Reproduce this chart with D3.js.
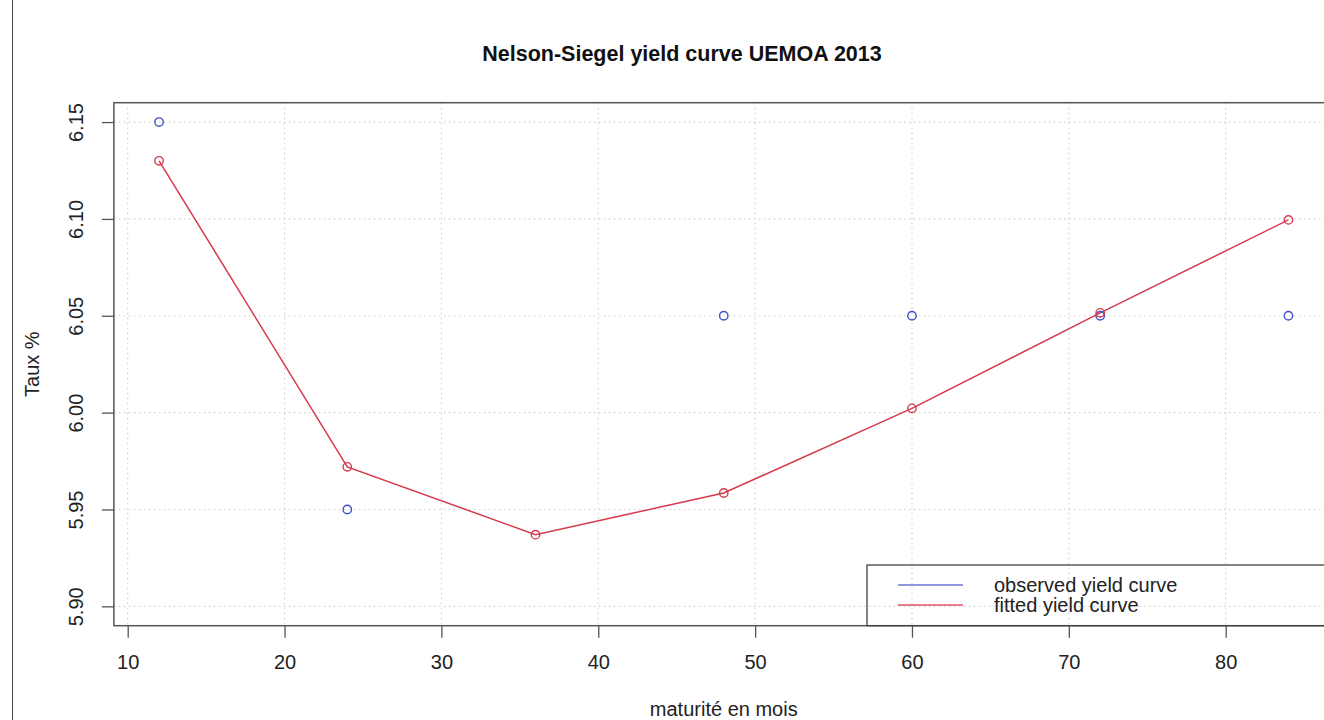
<!DOCTYPE html>
<html>
<head>
<meta charset="utf-8">
<script src="https://cdn.jsdelivr.net/npm/d3@7"></script>
<style>
  html, body { margin: 0; padding: 0; background: #fff; }
  svg { display: block; font-family: "Liberation Sans", Arial, Helvetica, sans-serif; }
</style>
</head>
<body>
<svg id="chart" width="1324" height="720"></svg>
<script>
// Maturities (months) and yields (%)
const maturities = [12, 24, 36, 48, 60, 72, 84];
const observedYield = [6.15, 5.95, null, 6.05, 6.05, 6.05, 6.05];
const fittedYield = [6.13, 5.972, 5.937, 5.9585, 6.0022, 6.0515, 6.0995];
const xTicks = [10, 20, 30, 40, 50, 60, 70, 80];
const yTicks = [5.90, 5.95, 6.00, 6.05, 6.10, 6.15];
const legendLabels = ["observed yield curve", "fitted yield curve"];

(function () {
  const blue = "#3f50c8";
  const red = "#d43a4c";

  const svg = d3.select("#chart");
  const H = 720;

  // Plot region (R-style 4% padding around the data range)
  const pLeft = 113.9, pRight = 1333.6, pTop = 102.7, pBottom = 625.7;

  const x = d3.scaleLinear().domain([9.12, 86.88]).range([pLeft, pRight]);
  const y = d3.scaleLinear().domain([5.89, 6.16]).range([pBottom, pTop]);

  // Thin frame line along the left edge of the image
  svg.append("line")
    .attr("x1", 12.5).attr("x2", 12.5).attr("y1", 0).attr("y2", H)
    .attr("stroke", "#444").attr("stroke-width", 1);

  // Dotted grid
  const grid = svg.append("g").attr("stroke", "#cfcfcf").attr("stroke-width", 1.2)
    .attr("stroke-dasharray", "1.5,3.5");
  grid.selectAll("line.v").data(xTicks).join("line").attr("class", "v")
    .attr("x1", d => x(d)).attr("x2", d => x(d))
    .attr("y1", pTop).attr("y2", pBottom);
  grid.selectAll("line.h").data(yTicks).join("line").attr("class", "h")
    .attr("x1", pLeft).attr("x2", pRight)
    .attr("y1", d => y(d)).attr("y2", d => y(d));

  // X axis
  const xAxis = svg.append("g")
    .attr("transform", `translate(0,${pBottom})`)
    .call(d3.axisBottom(x).tickValues(xTicks).tickSize(12).tickPadding(17).tickFormat(d3.format("d")));
  xAxis.select(".domain").remove();
  xAxis.selectAll(".tick line").attr("stroke", "#555").attr("stroke-width", 1.3);
  xAxis.selectAll(".tick text").attr("font-size", 20).attr("fill", "#222")
    .attr("font-family", "'Liberation Sans', Arial, sans-serif");

  // Y axis with rotated labels
  const yAxis = svg.append("g")
    .attr("transform", `translate(${pLeft},0)`)
    .call(d3.axisLeft(y).tickValues(yTicks).tickSize(12).tickFormat(d3.format(".2f")));
  yAxis.select(".domain").remove();
  yAxis.selectAll(".tick line").attr("stroke", "#555").attr("stroke-width", 1.3);
  yAxis.selectAll(".tick text")
    .attr("font-size", 20).attr("fill", "#222")
    .attr("font-family", "'Liberation Sans', Arial, sans-serif")
    .attr("transform", "rotate(-90)")
    .attr("x", 0).attr("y", -(pLeft - 83)).attr("dy", 0)
    .attr("text-anchor", "middle");

  // Plot box
  svg.append("rect")
    .attr("x", pLeft).attr("y", pTop)
    .attr("width", pRight - pLeft).attr("height", pBottom - pTop)
    .attr("fill", "none").attr("stroke", "#555").attr("stroke-width", 1.5);

  // Fitted curve
  const pts = maturities.map((m, i) => ({ m, obs: observedYield[i], fit: fittedYield[i] }));
  svg.append("path")
    .datum(pts)
    .attr("fill", "none").attr("stroke", red).attr("stroke-width", 1.5)
    .attr("d", d3.line().x(d => x(d.m)).y(d => y(d.fit)));

  // Observed points
  svg.append("g").selectAll("circle")
    .data(pts.filter(d => d.obs !== null)).join("circle")
    .attr("cx", d => x(d.m)).attr("cy", d => y(d.obs)).attr("r", 4.2)
    .attr("fill", "none").attr("stroke", blue).attr("stroke-width", 1.4);

  // Fitted points
  svg.append("g").selectAll("circle")
    .data(pts).join("circle")
    .attr("cx", d => x(d.m)).attr("cy", d => y(d.fit)).attr("r", 4.2)
    .attr("fill", "none").attr("stroke", red).attr("stroke-width", 1.4);

  // Legend (bottom right, no fill)
  const lg = svg.append("g");
  lg.append("rect")
    .attr("x", 867).attr("y", 565).attr("width", pRight - 867).attr("height", pBottom - 565)
    .attr("fill", "none").attr("stroke", "#444").attr("stroke-width", 1.3);
  const legendColors = ["#6a78d0", "#de5566"];
  legendLabels.forEach((lab, i) => {
    const ly = 585 + i * 20;
    lg.append("line").attr("x1", 898).attr("x2", 963).attr("y1", ly).attr("y2", ly)
      .attr("stroke", legendColors[i]).attr("stroke-width", 1.6);
    lg.append("text").attr("x", 994).attr("y", ly + 6.5)
      .attr("font-size", 20).attr("fill", "#222").text(lab);
  });

  // Title and axis titles
  svg.append("text")
    .attr("x", 682).attr("y", 61).attr("text-anchor", "middle")
    .attr("font-size", 21.5).attr("font-weight", "bold").attr("fill", "#111")
    .text("Nelson-Siegel yield curve UEMOA 2013");

  svg.append("text")
    .attr("x", (pLeft + pRight) / 2).attr("y", 716).attr("text-anchor", "middle")
    .attr("font-size", 20).attr("fill", "#222")
    .text("maturité en mois");

  svg.append("text")
    .attr("transform", `translate(39,${(pTop + pBottom) / 2}) rotate(-90)`)
    .attr("text-anchor", "middle")
    .attr("font-size", 20).attr("fill", "#222")
    .text("Taux %");
})();
</script>
</body>
</html>
